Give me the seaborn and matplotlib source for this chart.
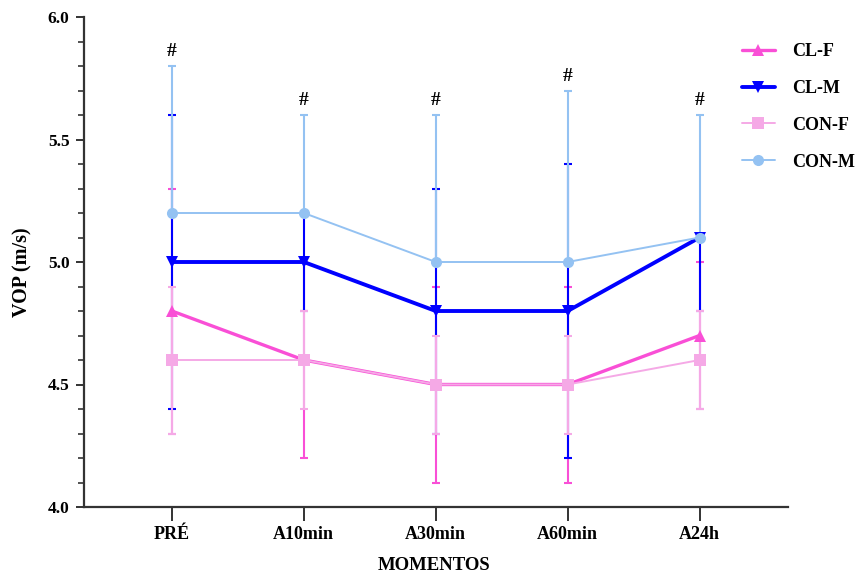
import numpy as np
import pandas as pd
import matplotlib
matplotlib.use("Agg")
import matplotlib.pyplot as plt
import seaborn as sns
from matplotlib.ticker import MultipleLocator

# ---- data ----
moments = ["PRÉ", "A10min", "A30min", "A60min", "A24h"]
groups = ["CL-F", "CL-M", "CON-F", "CON-M"]

clf_mean = [4.8, 4.6, 4.5, 4.5, 4.7]
clf_low = [0.5, 0.4, 0.4, 0.4, 0.3]
clf_high = [0.5, 0.4, 0.4, 0.4, 0.3]

clm_mean = [5.0, 5.0, 4.8, 4.8, 5.1]
clm_low = [0.6, 0.2, 0.5, 0.6, 0.3]
clm_high = [0.6, 0.2, 0.5, 0.6, 0.0]

conf_mean = [4.6, 4.6, 4.5, 4.5, 4.6]
conf_low = [0.3, 0.2, 0.2, 0.2, 0.2]
conf_high = [0.3, 0.2, 0.2, 0.2, 0.2]

conm_mean = [5.2, 5.2, 5.0, 5.0, 5.1]
conm_low = [0.0, 0.0, 0.0, 0.0, 0.0]
conm_high = [0.6, 0.4, 0.6, 0.7, 0.5]

sig_marks = ["#", "#", "#", "#", "#"]

means = {"CL-F": clf_mean, "CL-M": clm_mean, "CON-F": conf_mean, "CON-M": conm_mean}
lows = {"CL-F": clf_low, "CL-M": clm_low, "CON-F": conf_low, "CON-M": conm_low}
highs = {"CL-F": clf_high, "CL-M": clm_high, "CON-F": conf_high, "CON-M": conm_high}

colors = {"CL-F": "#F94FD6", "CL-M": "#0000FF", "CON-F": "#F5A9E6", "CON-M": "#94C2F2"}
markers = {"CL-F": "^", "CL-M": "v", "CON-F": "s", "CON-M": "o"}
widths = {"CL-F": 2.4, "CL-M": 2.8, "CON-F": 1.4, "CON-M": 1.4}

rows = []
for g in groups:
    for i, m in enumerate(moments):
        rows.append({"group": g, "pos": i, "moment": m, "value": means[g][i]})
df = pd.DataFrame(rows)

sns.set_theme(style="ticks")
plt.rcParams["font.family"] = ["Liberation Serif", "DejaVu Serif"]
plt.rcParams["font.weight"] = "bold"
plt.rcParams["text.color"] = "black"
plt.rcParams["axes.labelcolor"] = "black"

fig = plt.figure(figsize=(8.6, 5.73), dpi=100)
ax = fig.add_axes([83.5 / 860, 1 - 507 / 573, (788 - 83.5) / 860, (507 - 17) / 573])

# error bars
x = np.arange(len(moments))
for z, g in enumerate(groups):
    ax.errorbar(x, means[g], yerr=[lows[g], highs[g]], fmt="none",
                ecolor=colors[g], elinewidth=1.5, capsize=3, capthick=1.5,
                zorder=2 + z * 0.1)

# lines with markers
sns.lineplot(data=df, x="pos", y="value", hue="group", style="group",
             size="group", hue_order=groups, style_order=groups, size_order=groups,
             palette=colors, markers=markers, dashes=False, sizes=widths,
             markersize=8, markeredgewidth=0, ax=ax, zorder=3)

# significance marks
for i, s in enumerate(sig_marks):
    top = max(means[g][i] + highs[g][i] for g in groups)
    ax.annotate(s, (x[i], top), xytext=(0, 4), textcoords="offset points",
                ha="center", va="bottom", fontsize=14, fontweight="bold",
                color="black")

ax.set_xlim(-0.67, 4.67)
ax.set_ylim(4.0, 6.0)
ax.set_xticks(x)
ax.set_xticklabels(moments, fontsize=13, fontweight="bold")
ax.yaxis.set_major_locator(MultipleLocator(0.5))
ax.yaxis.set_minor_locator(MultipleLocator(0.1))
ax.set_yticks([4.0, 4.5, 5.0, 5.5, 6.0])
ax.set_yticklabels(["4.0", "4.5", "5.0", "5.5", "6.0"], fontsize=12.5, fontweight="bold")

ax.set_xlabel("MOMENTOS", fontsize=13.5, fontweight="bold", color="black")
ax.set_ylabel("VOP (m/s)", fontsize=14.5, fontweight="bold", color="black")
ax.xaxis.label.set_va("center")
ax.yaxis.label.set_va("center")
ax.xaxis.set_label_coords(0.497, (507 - 565) / 490)
ax.yaxis.set_label_coords((22 - 83.5) / 704.5, (507 - 272) / 490)

for side in ["top", "right"]:
    ax.spines[side].set_visible(False)
for side in ["left", "bottom"]:
    ax.spines[side].set_color("#333333")
    ax.spines[side].set_linewidth(1.6)

ax.tick_params(axis="y", which="major", length=6, width=1.4, color="#333333",
               labelcolor="black", pad=4)
ax.tick_params(axis="y", which="minor", length=4, width=1.2, color="#333333")
ax.tick_params(axis="x", which="major", length=10, width=1.4, color="#333333",
               labelcolor="black", pad=4)
ax.tick_params(axis="x", which="minor", length=0)

handles, labels = ax.get_legend_handles_labels()
leg = ax.legend(handles, labels, loc="upper left",
                bbox_to_anchor=(742 / 860, 1 - 43 / 573), bbox_transform=fig.transFigure,
                frameon=False, borderpad=0, borderaxespad=0, handlelength=1.8,
                handletextpad=0.95, labelspacing=1.1,
                prop={"family": "Liberation Serif", "weight": "bold", "size": 13})
for t in leg.get_texts():
    t.set_color("black")

fig.savefig("out.png", dpi=100)
